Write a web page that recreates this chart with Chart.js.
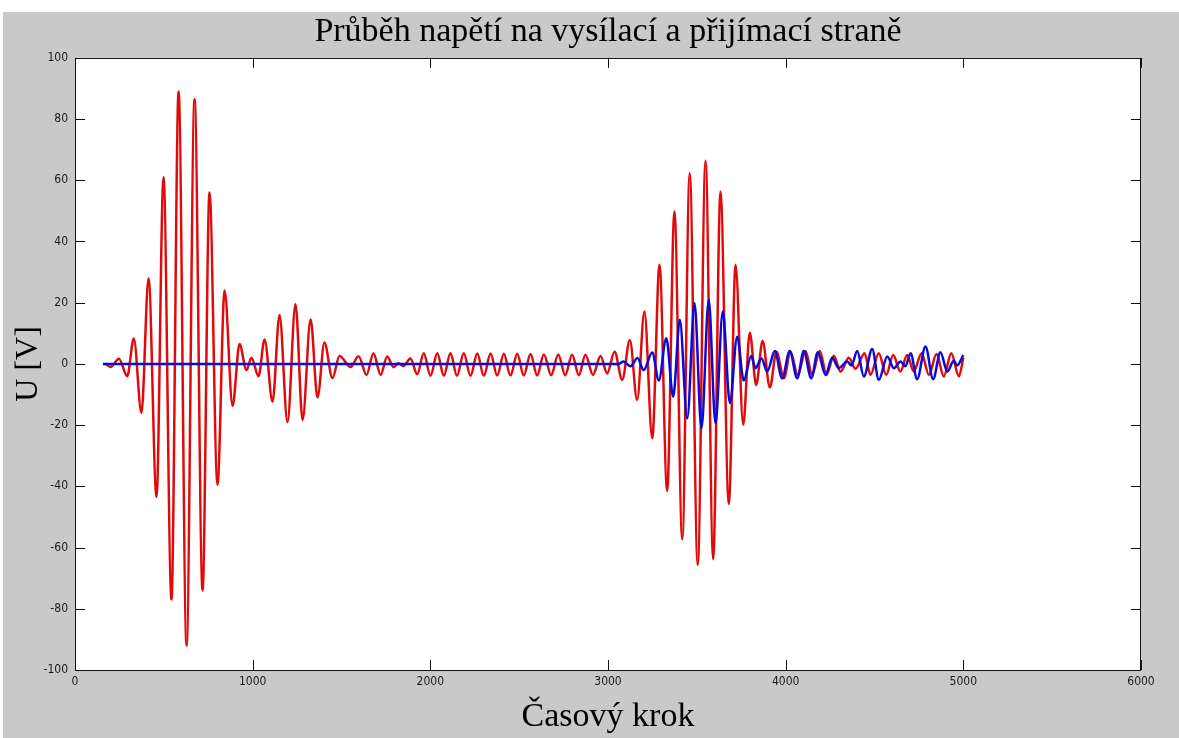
<!DOCTYPE html>
<html>
<head>
<meta charset="utf-8">
<title>Průběh napětí</title>
<script src="https://cdn.jsdelivr.net/npm/chart.js"></script>
<style>
html, body { margin: 0; padding: 0; background: #fff; }
#wrap { position: absolute; left: 0; top: 0; width: 1179px; height: 738px; }
</style>
</head>
<body>
<div id="wrap"><canvas id="myChart" width="1179" height="738"></canvas></div>
<script>
// sending side (red) - extrema
const redSteps = [
    172, 200, 247, 294, 331, 374, 414, 459, 498, 543,
    583, 628, 673, 718, 757, 802, 842, 887, 926, 965,
    993, 1033, 1067, 1112, 1151, 1196, 1241, 1281, 1326, 1365,
    1404, 1449, 1489, 1551, 1596, 1641, 1680, 1720, 1757, 1793,
    1821, 1849, 1888, 1926, 1963, 2001, 2039, 2076, 2113, 2150,
    2188, 2226, 2264, 2301, 2339, 2376, 2414, 2451, 2489, 2526,
    2564, 2601, 2639, 2680, 2720, 2759, 2798, 2836, 2873, 2915,
    2958, 2995, 3037, 3080, 3123, 3164, 3205, 3249, 3290, 3333,
    3374, 3418, 3460, 3505, 3549, 3592, 3633, 3680, 3718, 3761,
    3798, 3834, 3870, 3911, 3948, 3990, 4027, 4068, 4112, 4149,
    4192, 4230, 4271, 4309, 4355, 4393, 4444, 4477, 4524, 4566,
    4605, 4646, 4684, 4721, 4765, 4806, 4849, 4890, 4932, 4975,
    5000
];
const redVolts = [
    0, -1, 1.7, -4, 8.3, -16, 28, -43.5, 61, -77,
    89, -92, 86.5, -74, 56, -39.5, 24, -13.7, 6.5, -2,
    2, -4, 8, -12.4, 16, -19, 19.5, -18.3, 14.5, -11,
    7, -4.6, 2.6, -1, 2.5, -3.6, 3.5, -3.6, 2.4, -1.1,
    0.2, -0.7, 1.8, -3.4, 3.5, -3.9, 3.5, -3.9, 3.5, -3.9,
    3.5, -3.9, 3.4, -3.9, 3.4, -3.8, 3.3, -3.8, 3.3, -3.8,
    3.2, -3.8, 3.1, -3.7, 3.1, -3.7, 3.0, -3.7, 3.0, -3.6,
    2.6, -3.1, 4.0, -5.2, 7.8, -11.8, 17.1, -24.3, 32.4, -41.5,
    49.8, -57.3, 62.3, -65.7, 66.4, -63.8, 56.3, -45.8, 32.4, -19.9,
    10.2, -6.9, 7.5, -7.7, 4, -4.7, 4, -3.6, 4.2, -3.6,
    4.2, -3.6, 2.7, -2.5, 2, -1.6, 3.5, -3.6, 3.5, -3.6,
    2.9, -2.5, 2.9, -2.5, 3.5, -3.6, 3.2, -4.1, 3.5, -4.1,
    2
];

// receiving side (blue)
const blueSteps = [
    157, 3060,
    3087, 3127, 3166, 3201, 3249, 3286, 3328, 3367, 3404, 3446,
    3487, 3526, 3567, 3605, 3646, 3686, 3727, 3764, 3806, 3830,
    3864, 3896, 3939, 3980, 4023, 4065, 4102, 4144, 4181, 4224,
    4262, 4299, 4346, 4370, 4403, 4440, 4487, 4524, 4572, 4609,
    4646, 4674, 4703, 4740, 4787, 4830, 4871, 4910, 4946, 4965,
    5000
];
const blueVolts = [
    0, 0,
    0.8, -0.8, 1.9, -2, 3.7, -5.4, 8.4, -10.7, 14.4, -17.8,
    19.8, -21, 20.9, -19.4, 17.1, -12.8, 8.9, -5.4, 2.6, -1.4,
    1.8, -2.5, 4.2, -4.7, 4.2, -4.7, 4.2, -4.7, 3.8, -3.6,
    2, -1.4, 0.8, -0.5, 4.2, -4.1, 4.9, -5.2, 2.4, -1.4,
    0.8, -0.8, 3.5, -5, 5.7, -5, 3.8, -2.5, 1, -0.5,
    2.9
];

const xTicks = [0, 1000, 2000, 3000, 4000, 5000, 6000];
const yTicks = [-100, -80, -60, -40, -20, 0, 20, 40, 60, 80, 100];

const tickFont = { family: "'Liberation Sans Narrow', 'DejaVu Sans Condensed', Arial, sans-serif", size: 12 };
const serif = "'Liberation Serif', 'Times New Roman', serif";

// matlab look: grey figure, white axes, box with inward ticks
const matlabFrame = {
    id: 'matlabFrame',
    beforeDraw(chart) {
        const { ctx, chartArea: a } = chart;
        ctx.save();
        ctx.fillStyle = '#c9c9c9';
        ctx.fillRect(3, 12, chart.width - 3, chart.height - 12);
        ctx.fillStyle = '#fff';
        ctx.fillRect(a.left, a.top, a.right - a.left, a.bottom - a.top);
        ctx.restore();
    },
    afterDraw(chart) {
        const { ctx, chartArea: a, scales } = chart;
        ctx.save();
        ctx.strokeStyle = '#111';
        ctx.lineWidth = 1;
        ctx.beginPath();
        xTicks.forEach(v => {
            const px = Math.round(scales.x.getPixelForValue(v)) + 0.5;
            ctx.moveTo(px, a.bottom); ctx.lineTo(px, a.bottom - 10);
            ctx.moveTo(px, a.top); ctx.lineTo(px, a.top + 10);
        });
        yTicks.forEach(v => {
            const py = Math.round(scales.y.getPixelForValue(v)) + 0.5;
            ctx.moveTo(a.left, py); ctx.lineTo(a.left + 10, py);
            ctx.moveTo(a.right, py); ctx.lineTo(a.right - 10, py);
        });
        ctx.stroke();
        ctx.strokeRect(Math.round(a.left) + 0.5, Math.round(a.top) + 0.5,
            Math.round(a.right - a.left) - 1, Math.round(a.bottom - a.top));
        ctx.restore();
    }
};

const data = {
    datasets: [{
        label: 'přijímací strana',
        data: blueSteps.map((s, i) => ({ x: s, y: blueVolts[i] })),
        borderColor: 'rgb(10, 10, 215)',
        borderWidth: 2.5,
        pointRadius: 0,
        cubicInterpolationMode: 'monotone'
    },
    {
        label: 'vysílací strana',
        data: redSteps.map((s, i) => ({ x: s, y: redVolts[i] })),
        borderColor: 'rgb(225, 10, 10)',
        borderWidth: 2.5,
        pointRadius: 0,
        cubicInterpolationMode: 'monotone'
    }]
};

const config = {
    type: 'line',
    data: data,
    plugins: [matlabFrame],
    options: {
        responsive: false,
        animation: false,
        layout: { padding: { left: 0, right: 38, top: 0, bottom: 0 } },
        plugins: {
            legend: { display: false },
            tooltip: { enabled: false },
            title: {
                display: true,
                fullSize: false,
                text: 'Průběh napětí na vysílací a přijímací straně',
                color: '#000',
                font: { family: serif, size: 34, weight: 'normal' },
                padding: { top: 12, bottom: 5 }
            }
        },
        scales: {
            x: {
                type: 'linear',
                min: 0,
                max: 6000,
                afterBuildTicks: s => { s.ticks = xTicks.map(v => ({ value: v })); },
                afterFit: s => { s.height = 68; },
                grid: { display: false, drawTicks: false },
                border: { display: false },
                ticks: { font: tickFont, color: '#1a1a1a', padding: 5, maxRotation: 0, callback: v => String(v) },
                title: {
                    display: true,
                    text: 'Časový krok',
                    color: '#000',
                    font: { family: serif, size: 34 },
                    padding: { top: 0, bottom: 1 }
                }
            },
            y: {
                min: -100,
                max: 100,
                afterBuildTicks: s => { s.ticks = yTicks.map(v => ({ value: v })); },
                afterFit: s => { s.width = 75; },
                grid: { display: false, drawTicks: false },
                border: { display: false },
                ticks: { font: tickFont, color: '#1a1a1a', padding: 7, callback: v => String(v) },
                title: {
                    display: true,
                    text: 'U [V]',
                    color: '#000',
                    font: { family: serif, size: 32 },
                    padding: { top: 9, bottom: 0 }
                }
            }
        }
    }
};

const myChart = new Chart(document.getElementById('myChart'), config);
</script>
</body>
</html>
